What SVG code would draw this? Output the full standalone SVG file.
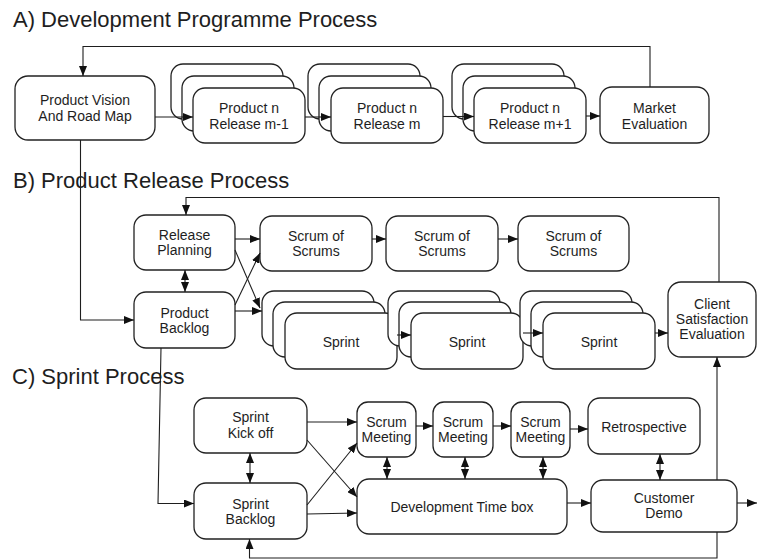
<svg xmlns="http://www.w3.org/2000/svg" width="757" height="560" viewBox="0 0 757 560">
  <style>
    .box { fill: #fff; stroke: #222; stroke-width: 1.3; }
    .lbl { font-family: "Liberation Sans", Arial, sans-serif; font-size: 14px; fill: #1e1e1e; text-anchor: middle; }
    .title { font-family: "Liberation Sans", Arial, sans-serif; font-size: 22px; fill: #1e1e1e; }
    .conn { fill: none; stroke: #1e1e1e; stroke-width: 1.1; }
    .arr { marker-end: url(#head); }
    .dbl { marker-end: url(#head); marker-start: url(#head); }
  </style>
  <defs>
    <marker id="head" viewBox="0 0 10 8" refX="10" refY="4" markerWidth="10" markerHeight="8" markerUnits="userSpaceOnUse" orient="auto-start-reverse">
      <path d="M0,0 L10,4 L0,8 z" fill="#111"/>
    </marker>
  </defs>

  <rect width="757" height="560" fill="#fff"/>

  <!-- section headings -->
  <text class="title" x="13" y="27">A) Development Programme Process</text>
  <text class="title" x="13" y="188">B) Product Release Process</text>
  <text class="title" x="12" y="384">C) Sprint Process</text>

  <!-- A) Development programme -->
  <g id="product-vision">
    <rect class="box" x="15" y="76" width="140" height="64" rx="13"/>
    <text class="lbl" x="85" y="105">Product Vision</text>
    <text class="lbl" x="85" y="121">And Road Map</text>
  </g>
  <g id="release-m-1">
    <rect class="box" x="171" y="64" width="112" height="55" rx="12"/>
    <rect class="box" x="182" y="76" width="112" height="55" rx="12"/>
    <rect class="box" x="193" y="88" width="112" height="55" rx="12"/>
    <text class="lbl" x="249" y="113">Product n</text>
    <text class="lbl" x="249" y="129">Release m-1</text>
  </g>
  <g id="release-m">
    <rect class="box" x="308" y="64" width="112" height="55" rx="12"/>
    <rect class="box" x="319" y="76" width="112" height="55" rx="12"/>
    <rect class="box" x="331" y="88" width="112" height="55" rx="12"/>
    <text class="lbl" x="387" y="113">Product n</text>
    <text class="lbl" x="387" y="129">Release m</text>
  </g>
  <g id="release-m-plus-1">
    <rect class="box" x="452" y="64" width="112" height="55" rx="12"/>
    <rect class="box" x="463" y="76" width="112" height="55" rx="12"/>
    <rect class="box" x="474" y="88" width="112" height="55" rx="12"/>
    <text class="lbl" x="530" y="113">Product n</text>
    <text class="lbl" x="530" y="129">Release m+1</text>
  </g>
  <g id="market-evaluation">
    <rect class="box" x="600" y="87" width="109" height="56" rx="12"/>
    <text class="lbl" x="654.5" y="113">Market</text>
    <text class="lbl" x="654.5" y="129">Evaluation</text>
  </g>

  <!-- B) Product release -->
  <g id="release-planning">
    <rect class="box" x="134" y="215" width="101" height="55" rx="12"/>
    <text class="lbl" x="184.5" y="240">Release</text>
    <text class="lbl" x="184.5" y="255">Planning</text>
  </g>
  <g id="product-backlog">
    <rect class="box" x="134" y="292" width="101" height="56" rx="12"/>
    <text class="lbl" x="184.5" y="318">Product</text>
    <text class="lbl" x="184.5" y="333">Backlog</text>
  </g>
  <g id="scrum-of-scrums-1">
    <rect class="box" x="260" y="216" width="112" height="55" rx="12"/>
    <text class="lbl" x="316" y="241">Scrum of</text>
    <text class="lbl" x="316" y="256">Scrums</text>
  </g>
  <g id="scrum-of-scrums-2">
    <rect class="box" x="386" y="216" width="112" height="55" rx="12"/>
    <text class="lbl" x="442" y="241">Scrum of</text>
    <text class="lbl" x="442" y="256">Scrums</text>
  </g>
  <g id="scrum-of-scrums-3">
    <rect class="box" x="518" y="216" width="111" height="55" rx="12"/>
    <text class="lbl" x="573.5" y="241">Scrum of</text>
    <text class="lbl" x="573.5" y="256">Scrums</text>
  </g>
  <g id="sprint-1">
    <rect class="box" x="262" y="291" width="112" height="55" rx="12"/>
    <rect class="box" x="273" y="302" width="112" height="55" rx="12"/>
    <rect class="box" x="285" y="313" width="112" height="56" rx="12"/>
    <text class="lbl" x="341" y="347">Sprint</text>
  </g>
  <g id="sprint-2">
    <rect class="box" x="388" y="291" width="112" height="55" rx="12"/>
    <rect class="box" x="399" y="302" width="112" height="55" rx="12"/>
    <rect class="box" x="411" y="313" width="112" height="56" rx="12"/>
    <text class="lbl" x="467" y="347">Sprint</text>
  </g>
  <g id="sprint-3">
    <rect class="box" x="520" y="291" width="112" height="55" rx="12"/>
    <rect class="box" x="531" y="302" width="112" height="55" rx="12"/>
    <rect class="box" x="543" y="313" width="112" height="56" rx="12"/>
    <text class="lbl" x="599" y="347">Sprint</text>
  </g>
  <g id="client-satisfaction">
    <rect class="box" x="668" y="282" width="88" height="75" rx="13"/>
    <text class="lbl" x="712" y="309">Client</text>
    <text class="lbl" x="712" y="324">Satisfaction</text>
    <text class="lbl" x="712" y="339">Evaluation</text>
  </g>

  <!-- C) Sprint -->
  <g id="sprint-kick-off">
    <rect class="box" x="194" y="398" width="113" height="55" rx="12"/>
    <text class="lbl" x="250.5" y="422">Sprint</text>
    <text class="lbl" x="250.5" y="438">Kick off</text>
  </g>
  <g id="sprint-backlog">
    <rect class="box" x="194" y="483" width="113" height="56" rx="12"/>
    <text class="lbl" x="250.5" y="509">Sprint</text>
    <text class="lbl" x="250.5" y="524">Backlog</text>
  </g>
  <g id="scrum-meeting-1">
    <rect class="box" x="357" y="402" width="59" height="55" rx="11"/>
    <text class="lbl" x="386.5" y="427">Scrum</text>
    <text class="lbl" x="386.5" y="442">Meeting</text>
  </g>
  <g id="scrum-meeting-2">
    <rect class="box" x="433" y="402" width="60" height="55" rx="11"/>
    <text class="lbl" x="463" y="427">Scrum</text>
    <text class="lbl" x="463" y="442">Meeting</text>
  </g>
  <g id="scrum-meeting-3">
    <rect class="box" x="511" y="402" width="59" height="55" rx="11"/>
    <text class="lbl" x="540.5" y="427">Scrum</text>
    <text class="lbl" x="540.5" y="442">Meeting</text>
  </g>
  <g id="retrospective">
    <rect class="box" x="588" y="398" width="112" height="56" rx="12"/>
    <text class="lbl" x="644" y="432">Retrospective</text>
  </g>
  <g id="development-time-box">
    <rect class="box" x="357" y="479" width="210" height="55" rx="12"/>
    <text class="lbl" x="462" y="512">Development Time box</text>
  </g>
  <g id="customer-demo">
    <rect class="box" x="591" y="480" width="146" height="52" rx="12"/>
    <text class="lbl" x="664" y="503">Customer</text>
    <text class="lbl" x="664" y="518">Demo</text>
  </g>

  <!-- connectors -->
  <g id="connectors">
    <!-- A -->
    <path class="conn arr" d="M650,87 L650,46.5 L83,46.5 L83,76"/>
    <path class="conn arr" d="M155,117 L193,117"/>
    <path class="conn arr" d="M305,117 L331,117"/>
    <path class="conn arr" d="M443,116.5 L474,116.5"/>
    <path class="conn arr" d="M586,116 L600,116"/>
    <!-- A to B -->
    <path class="conn arr" d="M80.5,140 L80.5,320 L134,320"/>
    <!-- B -->
    <path class="conn arr" d="M719,282 L719,197.5 L186,197.5 L186,215"/>
    <path class="conn dbl" d="M185,270 L185,292"/>
    <path class="conn arr" d="M235,239 L260,239"/>
    <path class="conn arr" d="M235,250 L260,308"/>
    <path class="conn arr" d="M235,305 L260,253"/>
    <path class="conn arr" d="M235,311 L262,311"/>
    <path class="conn arr" d="M372,239 L386,239"/>
    <path class="conn arr" d="M498,239 L518,239"/>
    <path class="conn arr" d="M397,335 L411,335"/>
    <path class="conn arr" d="M523,333 L543,333"/>
    <path class="conn arr" d="M655,333 L668,333"/>
    <!-- B to C -->
    <path class="conn arr" d="M161,348 L158,503.5 L194,503.5"/>
    <!-- C -->
    <path class="conn dbl" d="M250,453 L250,483"/>
    <path class="conn arr" d="M307,422 L357,422"/>
    <path class="conn arr" d="M307,440 L357,497"/>
    <path class="conn arr" d="M307,505 L357,443"/>
    <path class="conn arr" d="M307,514 L357,513"/>
    <path class="conn arr" d="M416,426 L433,426"/>
    <path class="conn arr" d="M493,426 L511,426"/>
    <path class="conn arr" d="M570,429 L588,429"/>
    <path class="conn dbl" d="M387,457 L387,479"/>
    <path class="conn dbl" d="M465,457 L465,479"/>
    <path class="conn dbl" d="M543,457 L543,479"/>
    <path class="conn dbl" d="M660,454 L660,480"/>
    <path class="conn arr" d="M567,503 L591,503"/>
    <path class="conn arr" d="M737,503 L757,503"/>
    <!-- feedback to client evaluation and sprint backlog -->
    <path class="conn arr" d="M717,480 L717,357"/>
    <path class="conn arr" d="M717,532 L717,558 L249.5,558 L249.5,539"/>
  </g>
</svg>
